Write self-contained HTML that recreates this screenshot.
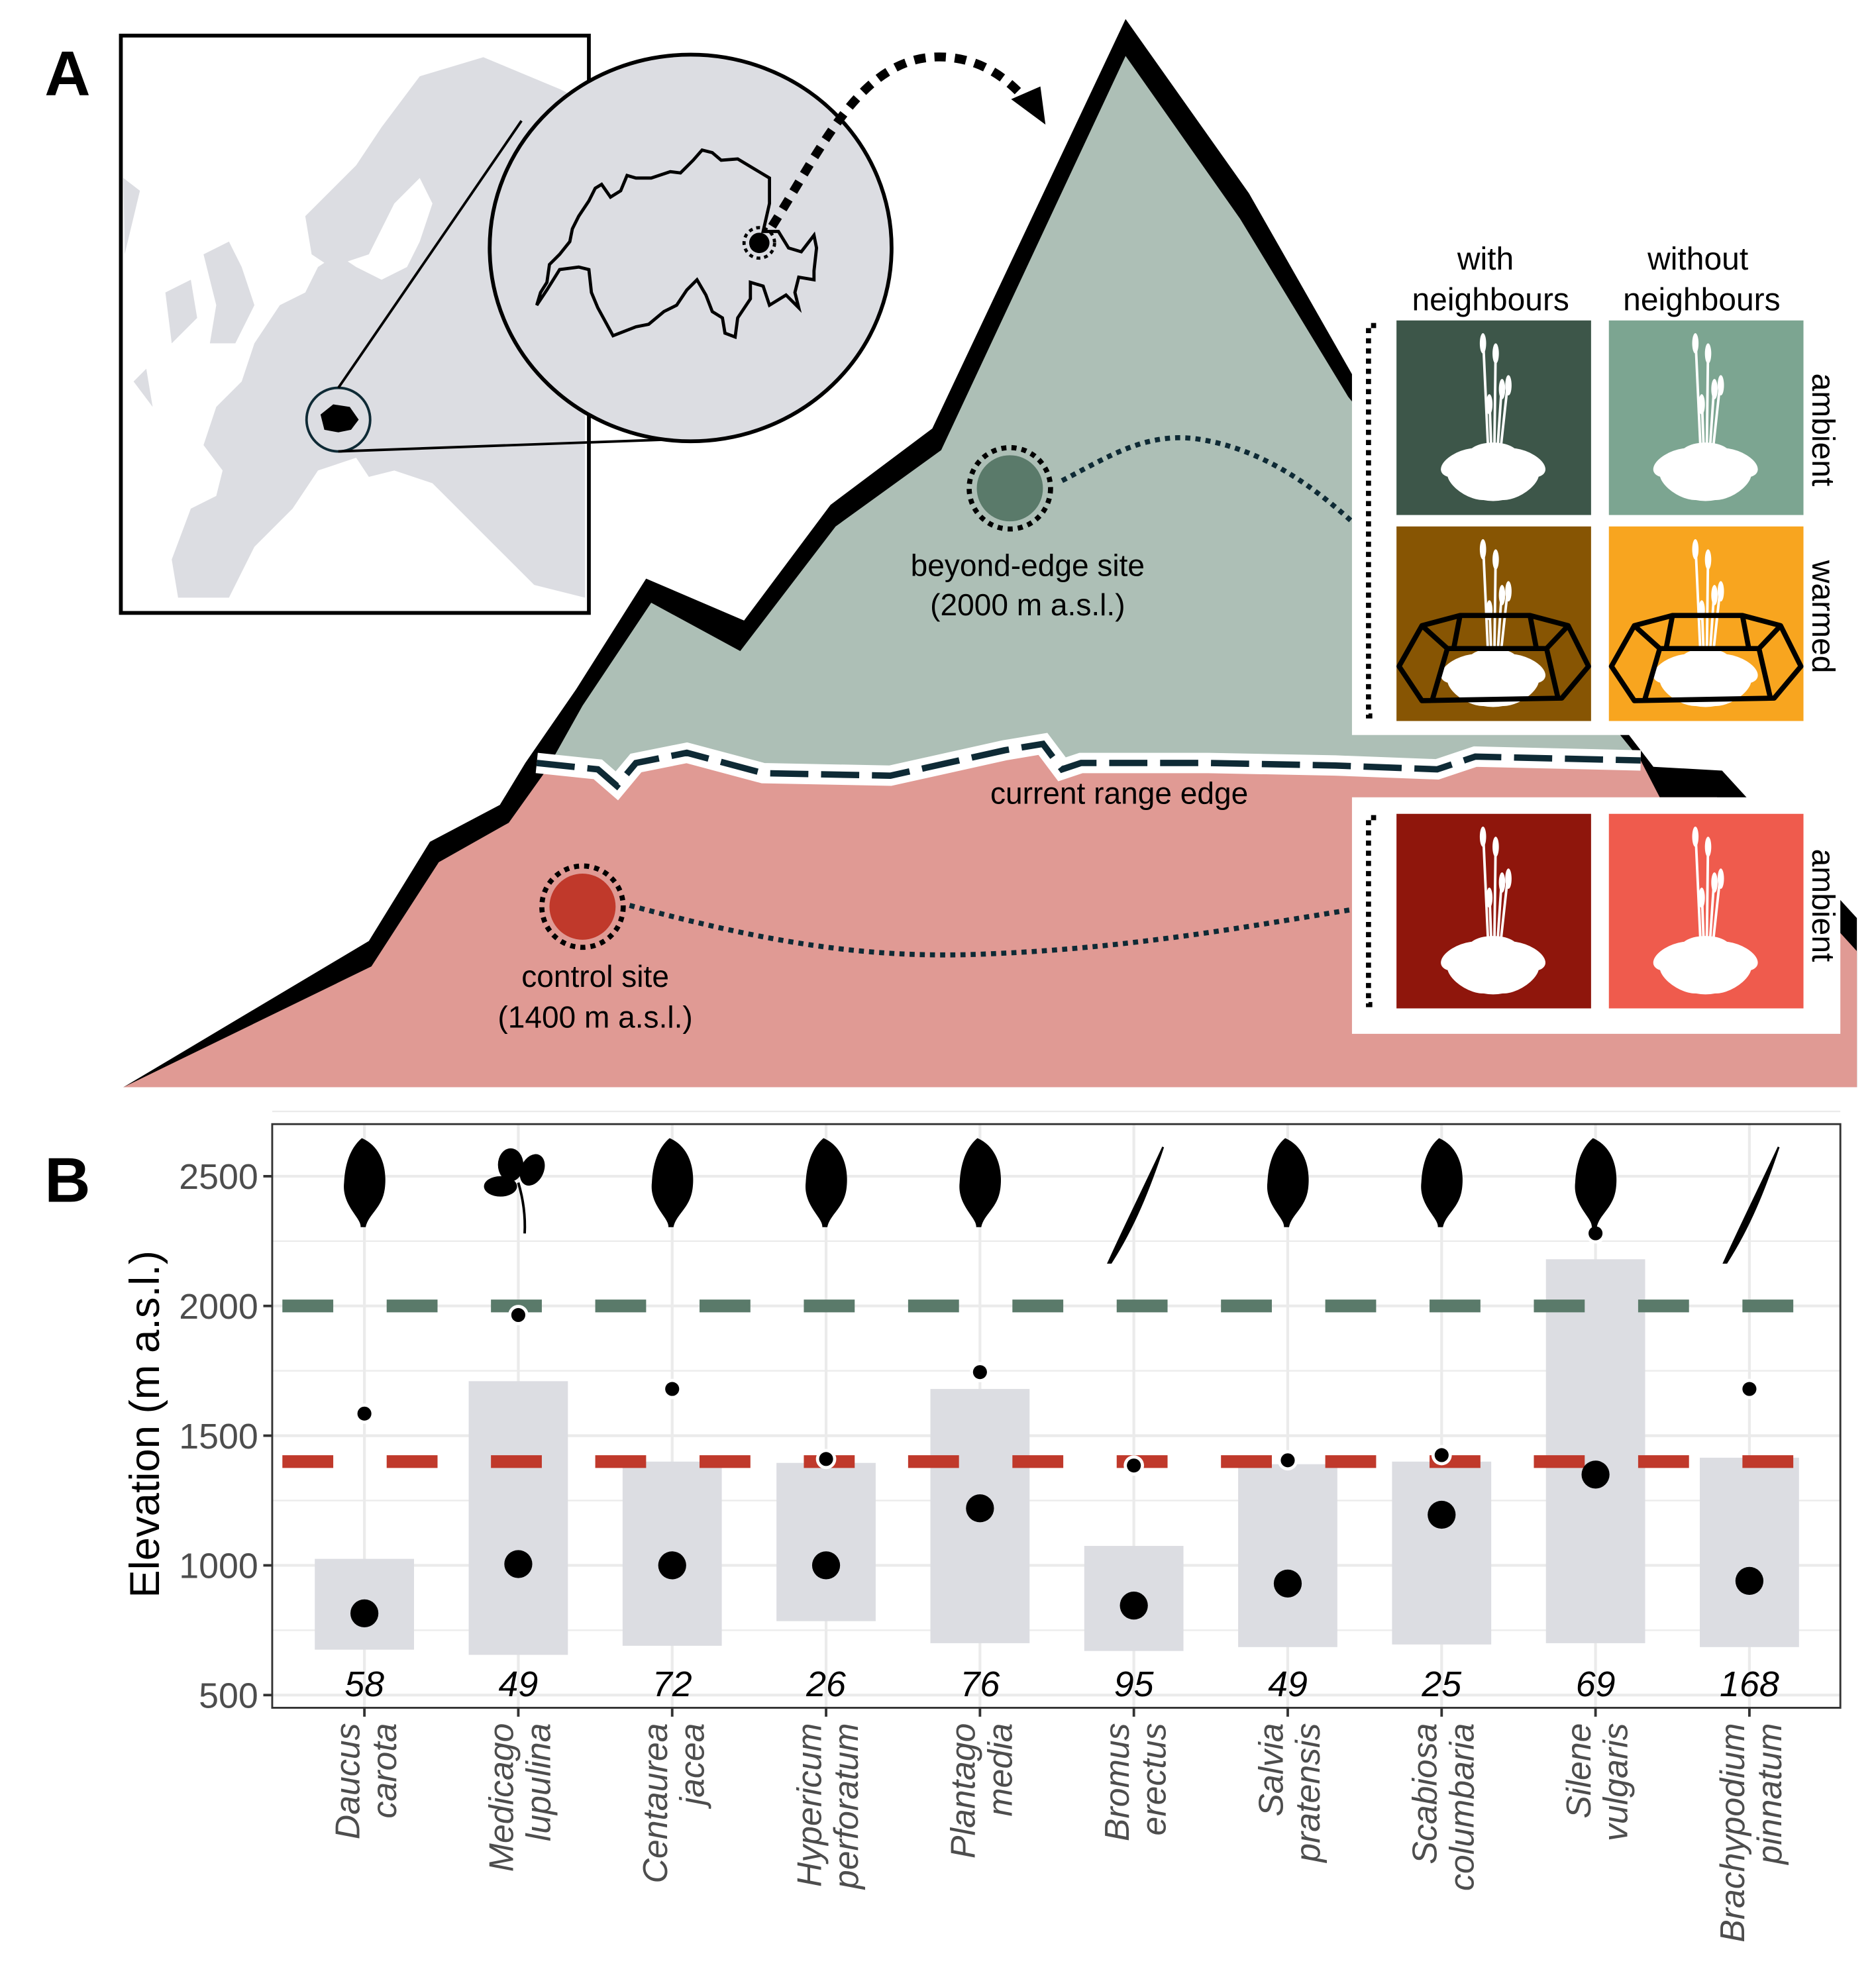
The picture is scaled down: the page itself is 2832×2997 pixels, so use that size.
<!DOCTYPE html>
<html><head><meta charset="utf-8"><style>
html,body{margin:0;padding:0;background:#fff}
svg{display:block}
text{font-family:"Liberation Sans",sans-serif}
</style></head><body>
<svg id="fig" width="2832" height="2997" viewBox="0 0 1475 1561" xmlns="http://www.w3.org/2000/svg">
<g>
<text x="35" y="75" font-size="50" font-weight="bold">A</text>
<path d="M97,855 L290,740 L338,662 L393,633 L413,600 L453,542 L508,455 L585,488 L653,397 L733,337 L885,15 L982,152 L1064,296 L1300,603 L1354,606 L1460,722 L1460,855 Z" fill="#000"/>
<path d="M430,605 L458,555 L512,474 L582,512 L657,414 L740,354 L885,44 L975,172 L1060,312 L1290,598 L1160,595 L1130,605 L1050,602 L950,600 L850,600 L835,605 L820,585 L790,590 L700,610 L600,608 L540,592 L500,600 L485,618 L470,605 Z" fill="#adbfb6"/>
<path d="M97,855 L292,760 L345,678 L400,647 L430,605 L470,605 L485,618 L500,600 L540,592 L600,608 L700,610 L790,590 L820,585 L835,605 L850,600 L950,600 L1050,602 L1130,605 L1160,595 L1290,598 L1305,627 L1350,627 L1460,748 L1460,855 Z" fill="#e09a94"/>
<path d="M422,600 L470,605 L485,618 L500,600 L540,592 L600,608 L700,610 L790,590 L820,585 L835,605 L850,600 L950,600 L1050,602 L1130,605 L1160,595 L1290,598" fill="none" stroke="#fff" stroke-width="16"/>
<path d="M422,600 L470,605 L485,618 L500,600 L540,592 L600,608 L700,610 L790,590 L820,585 L835,605 L850,600 L950,600 L1050,602 L1130,605 L1160,595 L1290,598" fill="none" stroke="#0e2a35" stroke-width="5" stroke-dasharray="30,10"/>
<text x="880" y="632" font-size="24" text-anchor="middle">current range edge</text>
<rect x="95" y="28" width="368" height="454" fill="#fff" stroke="#000" stroke-width="3"/>
<path fill="#dcdde2" d="M97,140 L110,150 L98,200 Z M240,170 L280,130 L300,100 L330,60 L380,45 L440,70 L460,80 L460,470 L420,460 L390,430 L360,400 L340,380 L310,370 L290,375 L280,360 L250,370 L230,400 L200,430 L180,470 L140,470 L135,440 L150,400 L170,390 L175,370 L160,350 L170,320 L190,300 L200,270 L220,240 L240,230 L250,210 L265,200 L280,210 L300,220 L320,210 L330,190 L340,160 L330,140 L310,160 L290,200 L260,210 L245,200 L240,170 Z M160,200 L180,190 L190,210 L200,240 L185,270 L165,270 L170,240 Z M130,230 L150,220 L155,250 L135,270 Z M105,300 L115,290 L120,320 Z"/>
<circle cx="266" cy="330" r="25" fill="#dcdde2" stroke="#0e2a35" stroke-width="2"/>
<path d="M252,326 L262,318 L275,320 L282,330 L276,338 L266,340 L255,338 Z" fill="#000"/>
<line x1="266" y1="305" x2="410" y2="95" stroke="#000" stroke-width="2"/>
<line x1="266" y1="355" x2="543" y2="345" stroke="#000" stroke-width="2"/>
<ellipse cx="543" cy="195" rx="158" ry="152" fill="#dcdde2" stroke="#000" stroke-width="3"/>
<path fill="none" stroke="#000" stroke-width="2.5" d="M455,170 L463,158 L468,148 L473,145 L480,155 L488,150 L493,138 L500,140 L512,140 L527,135 L535,136 L545,126 L552,118 L560,120 L567,126 L580,125 L605,140 L605,160 L600,182 L612,182 L620,195 L630,198 L640,185 L642,195 L640,213 L640,220 L628,218 L625,230 L628,242 L618,232 L605,240 L600,225 L590,222 L590,235 L580,250 L578,265 L570,262 L568,250 L560,245 L555,232 L548,220 L540,228 L532,240 L522,245 L510,255 L500,257 L482,264 L470,242 L465,230 L463,212 L455,210 L440,212 L430,228 L422,240 L425,230 L430,222 L432,208 L440,200 L448,190 L450,180 Z"/>
<circle cx="597" cy="191" r="8" fill="#000"/>
<circle cx="597" cy="191" r="12" fill="none" stroke="#000" stroke-width="2.5" stroke-dasharray="3,3"/>
<path d="M607,178 C650,110 680,40 745,45 C780,48 800,70 812,85" fill="none" stroke="#000" stroke-width="7" stroke-dasharray="9,7"/>
<polygon points="795,78 822,98 818,68" fill="#000"/>
<path d="M835,378 C870,360 900,340 940,345 C990,352 1030,380 1065,412" fill="none" stroke="#0e2a35" stroke-width="4" stroke-dasharray="4,4"/>
<circle cx="794" cy="384" r="26" fill="#5a7a6a"/>
<circle cx="794" cy="384" r="32" fill="none" stroke="#000" stroke-width="4" stroke-dasharray="4,4"/>
<text x="808" y="453" font-size="24" text-anchor="middle">beyond-edge site</text>
<text x="808" y="484" font-size="24" text-anchor="middle">(2000 m a.s.l.)</text>
<path d="M495,712 C600,740 680,755 780,750 C900,745 1000,725 1065,715" fill="none" stroke="#0e2a35" stroke-width="4" stroke-dasharray="4,4"/>
<circle cx="458" cy="713" r="26" fill="#c0392b"/>
<circle cx="458" cy="713" r="32" fill="none" stroke="#000" stroke-width="4" stroke-dasharray="4,4"/>
<text x="468" y="776" font-size="24" text-anchor="middle">control site</text>
<text x="468" y="808" font-size="24" text-anchor="middle">(1400 m a.s.l.)</text>
<rect x="1063" y="240" width="367" height="338" fill="#fff"/>
<rect x="1063" y="627" width="384" height="186" fill="#fff"/>
<path d="M1082,256 L1076,256 L1076,563 L1082,563" fill="none" stroke="#000" stroke-width="4" stroke-dasharray="4,4"/>
<path d="M1082,643 L1076,643 L1076,790 L1082,790" fill="none" stroke="#000" stroke-width="4" stroke-dasharray="4,4"/>
<text x="1168" y="212" font-size="25" text-anchor="middle">with</text>
<text x="1172" y="244" font-size="25" text-anchor="middle">neighbours</text>
<text x="1335" y="212" font-size="25" text-anchor="middle">without</text>
<text x="1338" y="244" font-size="25" text-anchor="middle">neighbours</text>
<text transform="translate(1425,338) rotate(90)" font-size="25" text-anchor="middle">ambient</text>
<text transform="translate(1425,485) rotate(90)" font-size="25" text-anchor="middle">warmed</text>
<text transform="translate(1425,712) rotate(90)" font-size="25" text-anchor="middle">ambient</text>
<g id="tiles"></g>
</g>
<g id="panelB">
<text x="35" y="945" font-size="50" font-weight="bold">B</text>
</g>
</svg>
<script>
const species=["Daucus|carota","Medicago|lupulina","Centaurea|jacea","Hypericum|perforatum","Plantago|media","Bromus|erectus","Salvia|pratensis","Scabiosa|columbaria","Silene|vulgaris","Brachypodium|pinnatum"];
const boxLow=[675,655,690,785,700,670,685,695,700,685];
const boxHigh=[1025,1710,1400,1395,1680,1075,1390,1400,2180,1415];
const meanElev=[815,1005,1000,1000,1220,845,930,1195,1350,940];
const maxElev=[1585,1965,1680,1410,1745,1385,1405,1425,2280,1680];
const sampleN=[58,49,72,26,76,95,49,25,69,168];
const leafType=["leaf","clover","leaf","leaf","leaf","grass","leaf","leaf","leaf","grass"];
const yTicks=[500,1000,1500,2000,2500];
const siteElev=[2000,1400];
const siteColor=["#5a7a6a","#c0392b"];

const NS="http://www.w3.org/2000/svg";
function mk(tag,attrs,parent){const e=document.createElementNS(NS,tag);for(const k in attrs)e.setAttribute(k,attrs[k]);parent.appendChild(e);return e;}
const L=214,R=1447,T=884,B=1343;
function yS(v){return 1333-(v-500)*(102/500);}
function xS(i){return 286.5+i*121;}
const g=document.getElementById('panelB');
mk('rect',{x:L,y:T,width:R-L,height:B-T,fill:'#fff'},g);
for(let v=500;v<=2750;v+=250){mk('line',{x1:L,x2:R,y1:yS(v),y2:yS(v),stroke:'#ebebeb','stroke-width':v%500?1.2:2.2},g);}
species.forEach((s,i)=>{mk('line',{x1:xS(i),x2:xS(i),y1:T,y2:B,stroke:'#ebebeb','stroke-width':2.2},g);});
species.forEach((s,i)=>{
 const r=mk('rect',{x:xS(i)-39,y:yS(boxHigh[i]),width:78,height:yS(boxLow[i])-yS(boxHigh[i]),fill:'#dcdde2'},g);
 
 
});
siteElev.forEach((v,k)=>{
 const l=mk('line',{x1:L+8,x2:R,y1:yS(v),y2:yS(v),stroke:siteColor[k],'stroke-width':10,'stroke-dasharray':'40,42'},g);
 
 
});
species.forEach((s,i)=>{
 const name=s.split('|')[0].toLowerCase();
 const m=mk('circle',{cx:xS(i),cy:yS(meanElev[i]),r:11,fill:'#000'},g);
 
 
 mk('circle',{cx:xS(i),cy:yS(maxElev[i]),r:8,fill:'#fff'},g);
 const p=mk('circle',{cx:xS(i),cy:yS(maxElev[i]),r:5.5,fill:'#000'},g);
 
 
 const t=mk('text',{x:xS(i),y:1334,'font-size':28,'font-style':'italic','text-anchor':'middle'},g);
 t.textContent=sampleN[i];
 
 
 const cx=xS(i),cy=930;
 if(leafType[i]==='leaf'){
  const lf=mk('path',{d:`M${cx-3},${cy+35} C${cx-2},${cy+28} ${cx-18},${cy+18} ${cx-16},${cy} C${cx-15},${cy-20} ${cx-8},${cy-30} ${cx-2},${cy-35} C${cx+14},${cy-28} ${cx+18},${cy-10} ${cx+16},${cy+5} C${cx+14},${cy+20} ${cx+3},${cy+25} ${cx+1},${cy+35} Z`,fill:'#000'},g);
  
  
 } else if(leafType[i]==='clover'){
  const cg=mk('g',{fill:'#000'},g);
  
  
  mk('ellipse',{cx:cx-6,cy:cy-14,rx:10,ry:13},cg);
  mk('ellipse',{cx:cx+11,cy:cy-10,rx:9,ry:13,transform:`rotate(25 ${cx+11} ${cy-10})`},cg);
  mk('ellipse',{cx:cx-14,cy:cy+3,rx:13,ry:8},cg);
  mk('path',{d:`M${cx},${cy} Q${cx+6},${cy+20} ${cx+5},${cy+40}`,stroke:'#000','stroke-width':2,fill:'none'},cg);
 } else {
  const gr=mk('path',{d:`M${cx-20},${cy+63} C${cx-5},${cy+30} ${cx+10},${cy} ${cx+23},${cy-28} C${cx+12},${cy+5} ${cx},${cy+35} ${cx-18},${cy+63} Z`,fill:'#000',stroke:'#000','stroke-width':1.5},g);
  
  
 }
 mk('line',{x1:cx,x2:cx,y1:B,y2:B+7,stroke:'#333','stroke-width':2},g);
 const parts=s.split('|');
 parts.forEach((w,j)=>{
  const tx=mk('text',{transform:`translate(${cx-4+j*29},${B+12}) rotate(-90)`,'font-size':27,'font-style':'italic','text-anchor':'end',fill:'#4d4d4d'},g);
  tx.textContent=w;
  
  
 });
});
mk('rect',{x:L,y:T,width:R-L,height:B-T,fill:'none',stroke:'#333','stroke-width':1.5},g);
yTicks.forEach(v=>{
 mk('line',{x1:L-7,x2:L,y1:yS(v),y2:yS(v),stroke:'#333','stroke-width':2},g);
 const t=mk('text',{x:L-11,y:yS(v)+10,'font-size':28,'text-anchor':'end',fill:'#4d4d4d'},g);
 t.textContent=v;
 
 
});
const yt=mk('text',{transform:'translate(125,1120) rotate(-90)','font-size':33,'text-anchor':'middle'},g);
yt.textContent='Elevation (m a.s.l.)';



const tg=document.getElementById('tiles');
const tiles=[[1098,252,'#3d5649',0],[1265,252,'#7ca591',0],[1098,414,'#875503',1],[1265,414,'#f8a51f',1],[1098,640,'#8f160c',0],[1265,640,'#ef5b4d',0]];
tiles.forEach((t,k)=>{
 const [x,y,c,w]=t;
 const r=mk('rect',{x:x,y:y,width:153,height:153,fill:c},tg);
 
 
 const cx=x+76,by=y+120;
 [[-8,-108],[2,-100],[7,-72],[12,-75],[-3,-60]].forEach(s=>{mk('path',{d:`M${cx+s[0]/2},${by-20} L${cx+s[0]},${by+s[1]}`,stroke:'#fff','stroke-width':2,fill:'none'},tg);mk('ellipse',{cx:cx+s[0],cy:by+s[1]+6,rx:2.5,ry:8,fill:'#fff'},tg);});
 mk('circle',{cx:cx,cy:by,r:14,fill:'#fff'},tg);
 [[-22,-8,-20],[22,-8,20],[-18,8,30],[18,8,-30],[0,12,0],[0,-14,0]].forEach(p=>{mk('ellipse',{cx:cx+p[0],cy:by+p[1],rx:20,ry:10,fill:'#fff',transform:`rotate(${p[2]} ${cx+p[0]} ${by+p[1]})`},tg);});
 if(w){mk('path',{d:`M${x+2},${y+110} L${x+20},${y+78} L${x+50},${y+70} L${x+105},${y+70} L${x+135},${y+78} L${x+151},${y+110} L${x+130},${y+135} L${x+20},${y+137} Z M${x+20},${y+78} L${x+40},${y+96} L${x+118},${y+96} L${x+135},${y+78} M${x+50},${y+70} L${x+45},${y+96} M${x+105},${y+70} L${x+110},${y+96} M${x+40},${y+96} L${x+28},${y+137} M${x+118},${y+96} L${x+127},${y+135}`,fill:'none',stroke:'#000','stroke-width':4,'stroke-linejoin':'round'},tg);}
});
</script>
</body></html>
